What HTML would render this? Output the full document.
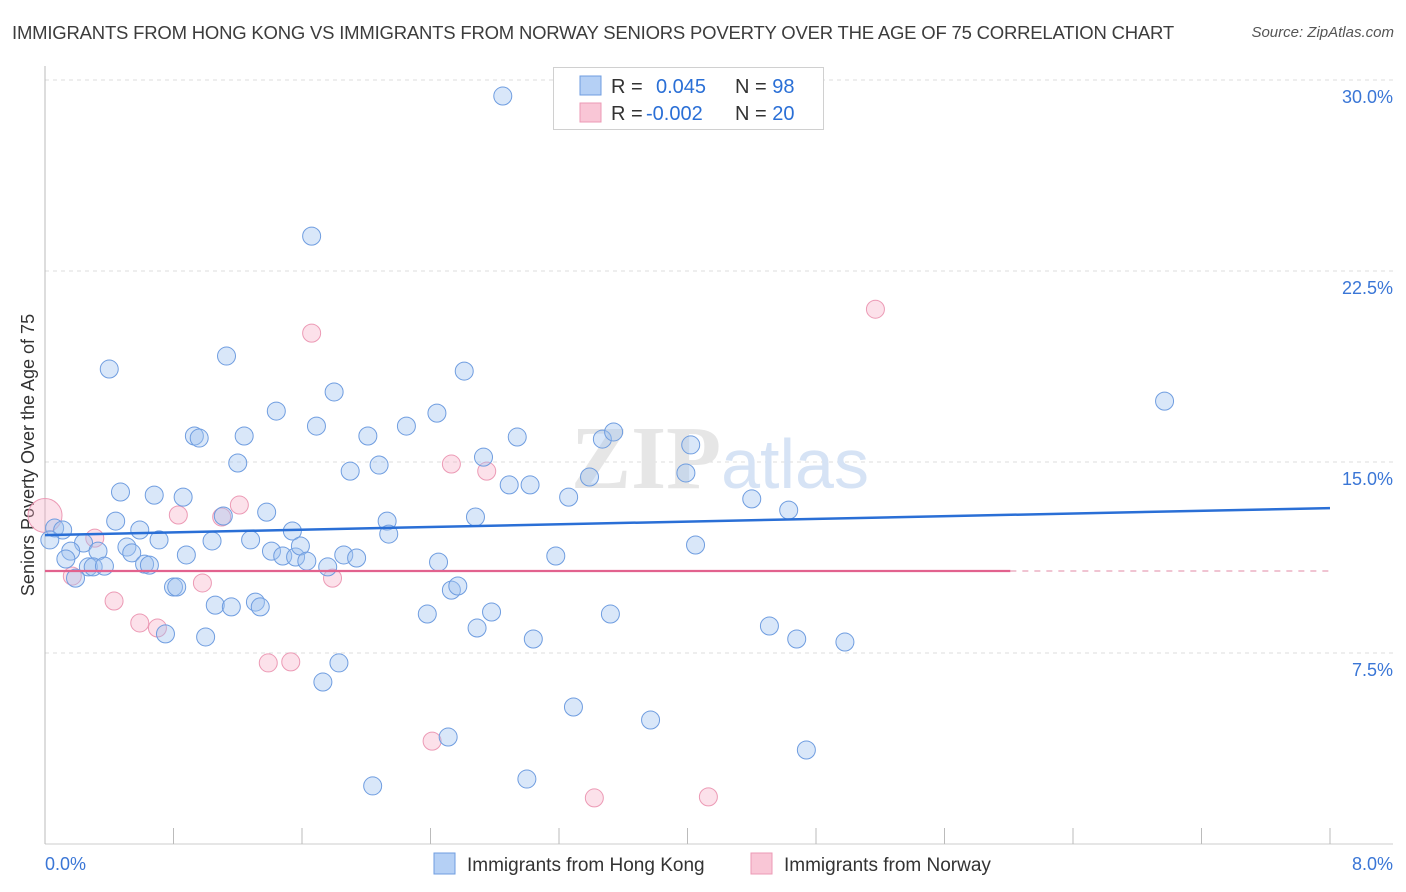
<!DOCTYPE html>
<html><head><meta charset="utf-8"><style>
body{margin:0;background:#fff;font-family:"Liberation Sans",sans-serif;}
#wrap{position:relative;width:1406px;height:892px;overflow:hidden;}
.t{position:absolute;white-space:nowrap;}
</style></head><body>
<div id="wrap">
<div class="t" style="left:12px;top:22px;font-size:18.5px;color:#3c3c3c;letter-spacing:-0.2px">IMMIGRANTS FROM HONG KONG VS IMMIGRANTS FROM NORWAY SENIORS POVERTY OVER THE AGE OF 75 CORRELATION CHART</div>
<div class="t" style="right:12px;top:24px;font-size:15px;color:#555;font-style:italic">Source: ZipAtlas.com</div>
<svg id="svg" width="1406" height="892" style="position:absolute;left:0;top:0"></svg>
</div>
<script>
const hkX=[2.85,1.66,0.40,1.13,2.61,1.80,1.44,2.44,1.69,2.25,0.93,0.96,1.24,2.01,2.94,3.47,3.54,4.02,6.97,1.20,1.90,2.08,2.73,3.99,3.39,0.47,0.68,0.86,2.89,3.02,3.26,4.40,4.63,1.11,1.38,0.44,0.59,1.54,2.13,2.68,0.06,0.11,0.03,0.71,1.04,1.28,0.51,0.54,0.24,0.16,0.33,0.88,1.41,1.48,1.56,1.59,1.63,1.86,1.94,2.14,3.18,4.05,0.13,0.62,0.65,0.27,0.30,0.37,1.76,2.45,0.19,0.80,0.82,2.53,2.57,1.06,1.16,1.31,1.34,2.38,2.78,3.52,0.75,1.00,2.69,3.04,4.51,4.68,4.98,1.83,1.73,3.29,3.77,2.51,4.74,3.00,2.04];
const hkY=[29.37,23.87,18.65,19.16,18.57,17.75,17.00,16.92,16.41,16.41,16.02,15.94,16.02,16.02,15.98,15.90,16.18,15.67,17.39,14.96,14.64,14.88,15.19,14.57,14.41,13.82,13.70,13.62,14.10,14.10,13.62,13.55,13.11,12.88,13.03,12.68,12.33,12.29,12.68,12.84,12.41,12.33,11.94,11.94,11.90,11.94,11.66,11.43,11.82,11.50,11.50,11.35,11.50,11.31,11.27,11.70,11.11,11.35,11.23,12.17,11.31,11.74,11.19,10.99,10.95,10.88,10.88,10.91,10.88,11.07,10.44,10.09,10.09,9.97,10.13,9.38,9.31,9.50,9.31,9.03,9.11,9.03,8.25,8.13,8.48,8.05,8.56,8.05,7.93,7.11,6.36,5.38,4.87,4.20,3.69,2.55,2.28];
const noX=[0.0,0.31,0.17,0.43,0.59,0.70,0.83,0.98,1.10,1.21,1.66,1.39,1.53,1.79,2.53,2.75,2.41,3.42,4.13,5.17];
const noY=[12.9,12.01,10.52,9.54,8.68,8.48,12.92,10.25,12.84,13.31,20.06,7.11,7.15,10.44,14.92,14.64,4.04,1.81,1.85,21.00];
const hkTrend=[12.13,13.19];
const noTrend=[10.72,10.72];
const noTrendEnd=6.01;
const yTicks=[7.5,15.0,22.5,30.0];
const xTickLabels=["0.0%","8.0%"];
const legendR=["0.045","-0.002"];
const legendN=["98","20"];

const X0=45,X1=1330,Y0=844,Y1=80,XMAX=8,YMAX=30;
const sx=v=>X0+(X1-X0)*v/XMAX, sy=v=>Y0-(Y0-Y1)*v/YMAX;
const svg=document.getElementById('svg');const NS='http://www.w3.org/2000/svg';
function mk(tag,attrs,parent){const e=document.createElementNS(NS,tag);for(const k in attrs)e.setAttribute(k,attrs[k]);(parent||svg).appendChild(e);return e;}
// gridlines
yTicks.forEach(v=>{
 const g=mk('line',{x1:X0,x2:1393,y1:sy(v),y2:sy(v),stroke:'#dcdcdc','stroke-dasharray':'4,4'});
 
 
 const t=mk('text',{x:1393,y:sy(v)+23,'text-anchor':'end','font-size':18,fill:'#3a76d6','font-family':'Liberation Sans, sans-serif'});
 t.textContent=v.toFixed(1)+'%';
 
 
});
const ax=mk('line',{x1:X0,x2:X0,y1:66,y2:Y0,stroke:'#bbb'});


const bx=mk('line',{x1:X0,x2:1393,y1:Y0,y2:Y0,stroke:'#ccc'});


for(let i=0;i<=10;i++){const xx=X0+(X1-X0)*i/10;const tk=mk('line',{x1:xx,x2:xx,y1:828,y2:Y0,stroke:'#bbb'});
 
 }
[[X0+0,'start',xTickLabels[0]],[1393,'end',xTickLabels[1]]].forEach(a=>{const t=mk('text',{x:a[0],y:870,'text-anchor':a[1],'font-size':18,fill:'#3a76d6','font-family':'Liberation Sans, sans-serif'});t.textContent=a[2];
 
 });
const yt=mk('text',{x:0,y:0,transform:'translate(34,455) rotate(-90)','text-anchor':'middle','font-size':18,fill:'#333','font-family':'Liberation Sans, sans-serif'});
yt.textContent='Seniors Poverty Over the Age of 75';


// watermark
const wm=mk('text',{x:720,y:488,'text-anchor':'middle','font-size':90,fill:'#e6e6e6','font-family':'Liberation Serif, serif'});
wm.innerHTML='<tspan font-weight="bold">ZIP</tspan><tspan fill="#d6e3f5" font-family="Liberation Sans, sans-serif" font-size="70">atlas</tspan>';


// points
noX.forEach((x,i)=>{const c=mk('circle',{cx:sx(x),cy:sy(noY[i]),r:i===0?17:9,fill:'rgba(246,170,195,0.35)',stroke:'#ec9ab5','stroke-width':1});
 
 });
hkX.forEach((x,i)=>{const c=mk('circle',{cx:sx(x),cy:sy(hkY[i]),r:9,fill:'rgba(160,195,240,0.4)',stroke:'#6f9de0','stroke-width':1});
 
 });
const l1=mk('line',{x1:sx(0),x2:sx(8),y1:sy(hkTrend[0]),y2:sy(hkTrend[1]),stroke:'#2a6fd6','stroke-width':2.5});


const yEnd=noTrend[0]+(noTrend[1]-noTrend[0])*noTrendEnd/8;
const l2=mk('line',{x1:sx(0),x2:sx(noTrendEnd),y1:sy(noTrend[0]),y2:sy(yEnd),stroke:'#e2628e','stroke-width':2.2});


const l3=mk('line',{x1:sx(noTrendEnd),x2:sx(8),y1:sy(yEnd),y2:sy(noTrend[1]),stroke:'#e8a0b8','stroke-width':1.2,'stroke-dasharray':'6,6'});


// legend box
const lb=mk('rect',{x:553.5,y:67.5,width:270,height:62,fill:'#fff',stroke:'#d0d0d0'});


[['#b5d0f5','#6f9de0'],['#f9c6d6','#ec9ab5']].forEach((c,i)=>{
 const y=76+i*27;
 const s=mk('rect',{x:580,y:y,width:21,height:19,fill:c[0],stroke:c[1]});
 
 
 const t=mk('text',{x:611,y:y+17,'font-size':20,fill:'#333','font-family':'Liberation Sans, sans-serif'});
 t.innerHTML='R = <tspan fill="#2a6fd6" x="'+(i?646:656)+'">'+legendR[i]+'</tspan><tspan x="735" fill="#333">N = </tspan><tspan fill="#2a6fd6">'+legendN[i]+'</tspan>';
 
 
});
// bottom legend
[[434,'#b5d0f5','#6f9de0','Immigrants from Hong Kong'],[751,'#f9c6d6','#ec9ab5','Immigrants from Norway']].forEach(a=>{
 const s=mk('rect',{x:a[0],y:853,width:21,height:21,fill:a[1],stroke:a[2]});
 
 
 const t=mk('text',{x:a[0]+33,y:871,'font-size':19,fill:'#333','font-family':'Liberation Sans, sans-serif'});
 t.textContent=a[3];
 
 
});
</script>
</body></html>
